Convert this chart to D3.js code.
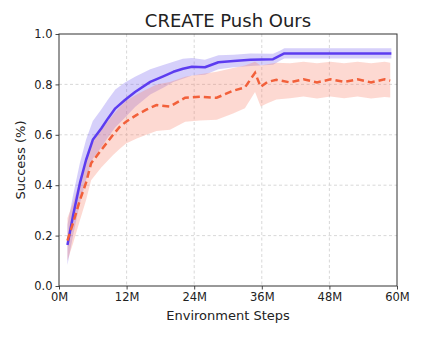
<!DOCTYPE html>
<html>
<head>
<meta charset="utf-8">
<script src="https://cdn.jsdelivr.net/npm/d3@7"></script>
<style>
  body { margin: 0; background: #fff; }
  svg text { font-family: "DejaVu Sans", sans-serif; fill: #222; }
</style>
</head>
<body>
<div class="container"></div>
<script>
const WIDTH = 422;
const HEIGHT = 338;
const LEFT = 59, RIGHT = 397, TOP = 34, BOTTOM = 286;

// x in millions of environment steps
var xTicks = [0, 12, 24, 36, 48, 60];
var yTicks = [0, 0.2, 0.4, 0.6, 0.8, 1.0];

var oursSteps = [1.5, 2.5, 3.7, 4.8, 6, 7.5, 8.7, 10, 11.7, 13.5, 16.2, 18.5, 20.3, 22, 23.6, 25.9, 28.3, 31, 34, 38, 39.3, 40, 45, 50, 55, 59];
var oursMean  = [0.163, 0.28, 0.407, 0.50, 0.58, 0.625, 0.665, 0.705, 0.738, 0.77, 0.81, 0.832, 0.85, 0.862, 0.87, 0.868, 0.888, 0.893, 0.898, 0.90, 0.915, 0.923, 0.923, 0.923, 0.923, 0.923];
var oursLow   = [0.083, 0.20, 0.327, 0.42, 0.505, 0.55, 0.59, 0.63, 0.668, 0.71, 0.76, 0.787, 0.81, 0.822, 0.835, 0.838, 0.86, 0.868, 0.873, 0.878, 0.895, 0.903, 0.903, 0.903, 0.903, 0.903];
var oursHigh  = [0.243, 0.36, 0.487, 0.58, 0.655, 0.70, 0.74, 0.78, 0.808, 0.83, 0.86, 0.877, 0.89, 0.902, 0.905, 0.898, 0.916, 0.918, 0.923, 0.922, 0.935, 0.943, 0.943, 0.943, 0.943, 0.943];

var baseSteps = [1.5, 2.5, 3.7, 4.8, 5.7, 7.5, 9.6, 10.8, 11.9, 13.8, 15.5, 17.3, 19.7, 22.4, 25, 28, 30.9, 33, 34.8, 35.8, 37, 38.6, 41, 43.4, 45.8, 48.2, 50.6, 53, 55.4, 57.8, 58.8];
var baseMean  = [0.18, 0.25, 0.34, 0.41, 0.487, 0.54, 0.60, 0.632, 0.652, 0.679, 0.70, 0.718, 0.712, 0.747, 0.751, 0.747, 0.775, 0.788, 0.846, 0.79, 0.81, 0.818, 0.808, 0.82, 0.808, 0.82, 0.81, 0.82, 0.808, 0.82, 0.815];
var baseLow   = [0.10, 0.17, 0.26, 0.34, 0.42, 0.47, 0.52, 0.545, 0.565, 0.585, 0.60, 0.615, 0.62, 0.652, 0.657, 0.66, 0.685, 0.705, 0.77, 0.712, 0.725, 0.74, 0.745, 0.752, 0.744, 0.752, 0.745, 0.752, 0.744, 0.75, 0.748];
var baseHigh  = [0.27, 0.33, 0.42, 0.50, 0.56, 0.62, 0.68, 0.71, 0.735, 0.76, 0.78, 0.80, 0.81, 0.83, 0.84, 0.85, 0.865, 0.875, 0.89, 0.875, 0.88, 0.886, 0.884, 0.89, 0.884, 0.89, 0.884, 0.89, 0.884, 0.89, 0.886];

var x = d3.scaleLinear().domain([0, 60]).range([LEFT, RIGHT]);
var y = d3.scaleLinear().domain([0, 1]).range([BOTTOM, TOP]);

var svg = d3.select('.container')
    .append('svg')
    .attr('width', WIDTH)
    .attr('height', HEIGHT);

// grid
svg.append('g').selectAll('line').data(xTicks.slice(1, -1)).enter().append('line')
    .attr('x1', d => x(d)).attr('x2', d => x(d))
    .attr('y1', TOP).attr('y2', BOTTOM)
    .attr('stroke', '#d4d4d4').attr('stroke-width', 0.9).attr('stroke-dasharray', '3,2.5');
svg.append('g').selectAll('line').data(yTicks.slice(1, -1)).enter().append('line')
    .attr('x1', LEFT).attr('x2', RIGHT)
    .attr('y1', d => y(d)).attr('y2', d => y(d))
    .attr('stroke', '#d4d4d4').attr('stroke-width', 0.9).attr('stroke-dasharray', '3,2.5');

var band = function(steps, lo, hi) {
    return d3.area()
        .x((d, i) => x(steps[i]))
        .y0((d, i) => y(lo[i]))
        .y1((d, i) => y(hi[i]))(steps);
};
var line = function(steps, mean) {
    return d3.line()
        .x((d, i) => x(steps[i]))
        .y((d, i) => y(mean[i]))(steps);
};

svg.append('path').attr('d', band(oursSteps, oursLow, oursHigh))
    .attr('fill', 'rgb(120,100,240)').attr('fill-opacity', 0.3);
svg.append('path').attr('d', band(baseSteps, baseLow, baseHigh))
    .attr('fill', 'rgb(250,130,105)').attr('fill-opacity', 0.3);

svg.append('path').attr('d', line(oursSteps, oursMean))
    .attr('fill', 'none').attr('stroke', '#5c3cf0').attr('stroke-width', 2.5)
    .attr('stroke-linejoin', 'round');
svg.append('path').attr('d', line(baseSteps, baseMean))
    .attr('fill', 'none').attr('stroke', '#f2603a').attr('stroke-width', 2.5)
    .attr('stroke-dasharray', '7,4');

// axes
var xAxis = svg.append('g')
    .attr('transform', 'translate(0,' + BOTTOM + ')')
    .call(d3.axisBottom(x).tickValues(xTicks).tickFormat(d => d + 'M').tickSizeInner(3.5).tickSizeOuter(0).tickPadding(3));
var yAxis = svg.append('g')
    .attr('transform', 'translate(' + LEFT + ',0)')
    .call(d3.axisLeft(y).tickValues(yTicks).tickFormat(d3.format('.1f')).tickSizeInner(3.5).tickSizeOuter(0).tickPadding(3));
[xAxis, yAxis].forEach(function(g) {
    g.select('.domain').remove();
    g.selectAll('line').attr('stroke', '#333').attr('stroke-width', 0.9);
    g.selectAll('text').style('font-size', '11.5px').attr('fill', '#222');
});

svg.append('rect')
    .attr('x', LEFT).attr('y', TOP)
    .attr('width', RIGHT - LEFT).attr('height', BOTTOM - TOP)
    .attr('fill', 'none').attr('stroke', '#333').attr('stroke-width', 1);

svg.append('text')
    .attr('x', (LEFT + RIGHT) / 2).attr('y', 26.5)
    .attr('text-anchor', 'middle').style('font-size', '18px')
    .text('CREATE Push Ours');

svg.append('text')
    .attr('x', (LEFT + RIGHT) / 2).attr('y', 320)
    .attr('text-anchor', 'middle').style('font-size', '13px')
    .text('Environment Steps');

svg.append('text')
    .attr('transform', 'translate(25,' + ((TOP + BOTTOM) / 2) + ') rotate(-90)')
    .attr('text-anchor', 'middle').style('font-size', '13px')
    .text('Success (%)');
</script>
</body>
</html>
